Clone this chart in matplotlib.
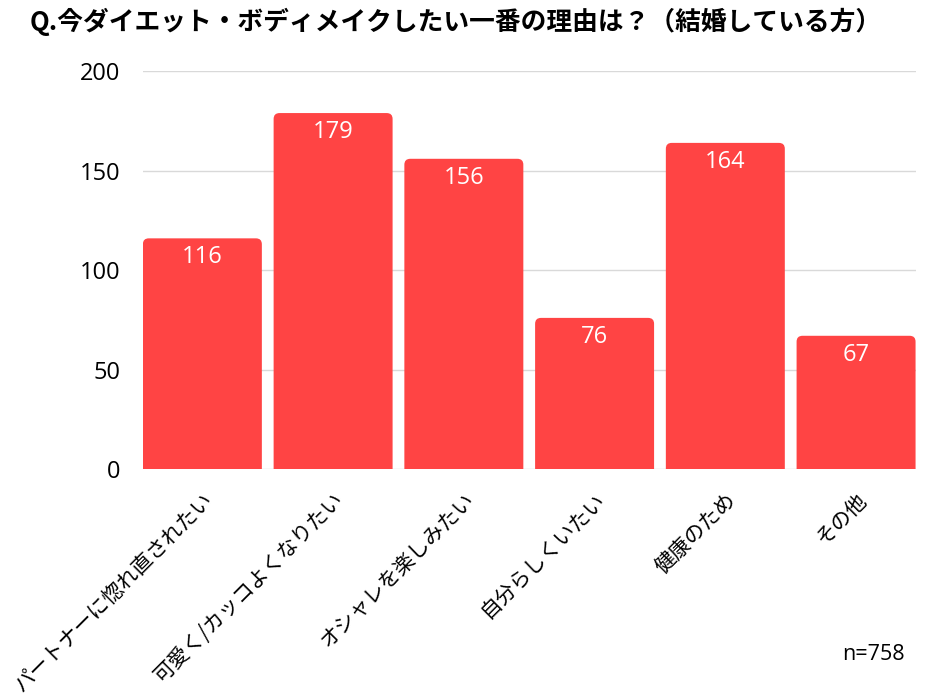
import matplotlib.pyplot as plt
from matplotlib.patches import FancyBboxPatch

plt.rcParams['font.family'] = ['Noto Sans CJK JP', 'DejaVu Sans']

categories = ["パートナーに惚れ直されたい", "可愛く/カッコよくなりたい", "オシャレを楽しみたい",
              "自分らしくいたい", "健康のため", "その他"]
counts = [116, 179, 156, 76, 164, 67]
title = "Q.今ダイエット・ボディメイクしたい一番の理由は？（結婚している方）"
note = "n=758"

bar_color = "#FF4444"
num_font = ["Open Sans", "Noto Sans CJK JP"]

fig = plt.figure(figsize=(9.4, 6.99), dpi=100)
ax = fig.add_axes([0.152, 0.329, 0.822, 0.569])

x = list(range(len(categories)))
bars = ax.bar(x, counts, width=0.91, color=bar_color, zorder=2)

ax.set_xlim(-0.455, len(categories) - 1 + 0.455)
ax.set_ylim(0, 200)

# swap plain bars for ones with rounded corners
px_x = 0.822 * 940 / (ax.get_xlim()[1] - ax.get_xlim()[0])
px_y = 0.569 * 699 / 200
for b in bars:
    b.set_visible(False)
    r = FancyBboxPatch((b.get_x(), -10), b.get_width(), b.get_height() + 10,
                       boxstyle="round,pad=0,rounding_size=0.045",
                       mutation_aspect=px_x / px_y,
                       facecolor=bar_color, edgecolor="none", zorder=2)
    ax.add_patch(r)

for xi, v in zip(x, counts):
    ax.annotate(str(v), (xi, v), xytext=(0, -5), textcoords="offset points",
                ha="center", va="top", color="white", fontsize=17, family=num_font)

ax.set_yticks([0, 50, 100, 150, 200])
ax.set_yticklabels(["0", "50", "100", "150", "200"], fontsize=17, family=num_font)
ax.grid(axis="y", color="#d9d9d9", linewidth=1, zorder=0)
ax.tick_params(axis="y", length=0, pad=16)
ax.tick_params(axis="x", length=0)
for s in ax.spines.values():
    s.set_visible(False)

ax.set_xticks(x)
ax.set_xticklabels(categories, rotation=45, ha="right", rotation_mode="anchor", fontsize=15)
ax.tick_params(axis="x", pad=14)

fig.text(0.032, 0.968, title, fontsize=18.5, fontweight="bold", ha="left", va="center")
fig.text(0.963, 0.063, note, fontsize=15.5, ha="right", va="center", family=num_font)

fig.savefig("out.png", dpi=100)
